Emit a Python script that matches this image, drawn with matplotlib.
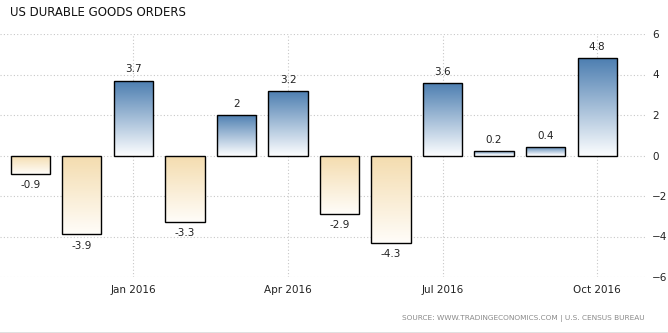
import numpy as np
import matplotlib
matplotlib.use("Agg")
import matplotlib.pyplot as plt
from matplotlib.colors import LinearSegmentedColormap
from matplotlib.lines import Line2D

months = ["Nov 2015", "Dec 2015", "Jan 2016", "Feb 2016", "Mar 2016", "Apr 2016",
          "May 2016", "Jun 2016", "Jul 2016", "Aug 2016", "Sep 2016", "Oct 2016"]
values = [-0.9, -3.9, 3.7, -3.3, 2.0, 3.2, -2.9, -4.3, 3.6, 0.2, 0.4, 4.8]
value_labels = ["-0.9", "-3.9", "3.7", "-3.3", "2", "3.2", "-2.9", "-4.3", "3.6", "0.2", "0.4", "4.8"]
tick_idx = [2, 5, 8, 11]
tick_labels = ["Jan 2016", "Apr 2016", "Jul 2016", "Oct 2016"]
yticks = [-6, -4, -2, 0, 2, 4, 6]

blue_cmap = LinearSegmentedColormap.from_list("b", ["#fafcfe", "#4b7db0"])
orange_cmap = LinearSegmentedColormap.from_list("o", ["#fffdf9", "#f4dcae"])

fig = plt.figure(figsize=(6.68, 3.33), dpi=100)
W, H = 668, 333
ax = fig.add_axes([0, 56 / H, 645 / W, 243 / H])

x = np.arange(len(values))
bars = ax.bar(x, values, width=0.76, facecolor="none", edgecolor="black", linewidth=1.0,
              joinstyle="miter", zorder=3)

grad = np.linspace(0, 1, 256).reshape(-1, 1)
for b, v in zip(bars, values):
    x0 = b.get_x()
    x1 = x0 + b.get_width()
    if v >= 0:
        im = ax.imshow(grad, cmap=blue_cmap, origin="lower", aspect="auto",
                       extent=[x0, x1, 0, v], zorder=2)
    else:
        im = ax.imshow(grad, cmap=orange_cmap, origin="lower", aspect="auto",
                       extent=[x0, x1, v, 0], zorder=2)
    im.set_clip_path(b)

for xi, v, lab in zip(x, values, value_labels):
    if v >= 0:
        ax.text(xi, v + 0.3, lab, ha="center", va="bottom", fontsize=7.5, color="#222222")
    else:
        ax.text(xi, v - 0.3, lab, ha="center", va="top", fontsize=7.5, color="#222222")

ax.set_xlim(-0.59, 11.93)
ax.set_ylim(-6, 6)
ax.set_yticks(yticks)
ax.set_xticks(tick_idx)
ax.set_xticklabels(tick_labels)
ax.yaxis.tick_right()
ax.tick_params(axis="both", length=0, labelsize=7.5, labelcolor="#222222")
ax.tick_params(axis="y", pad=5)
ax.tick_params(axis="x", pad=6)
for lab in ax.get_yticklabels():
    lab.set_horizontalalignment("left")
ax.grid(True, linestyle=(0, (1, 2)), color="#c8c8c8", linewidth=0.8, zorder=0)
ax.set_axisbelow(True)
for s in ax.spines.values():
    s.set_visible(False)

fig.text(10 / W, 1 - 13 / H, "US DURABLE GOODS ORDERS", fontsize=8.5, color="#111111",
         ha="left", va="center")
fig.text(645 / W, 1 - 318 / H, "SOURCE: WWW.TRADINGECONOMICS.COM | U.S. CENSUS BUREAU",
         fontsize=5.3, color="#8a8a8a", ha="right", va="center")
fig.add_artist(Line2D([0, 1], [0.5 / H, 0.5 / H], color="#dddddd", linewidth=2))

fig.savefig("out.png", dpi=100)
